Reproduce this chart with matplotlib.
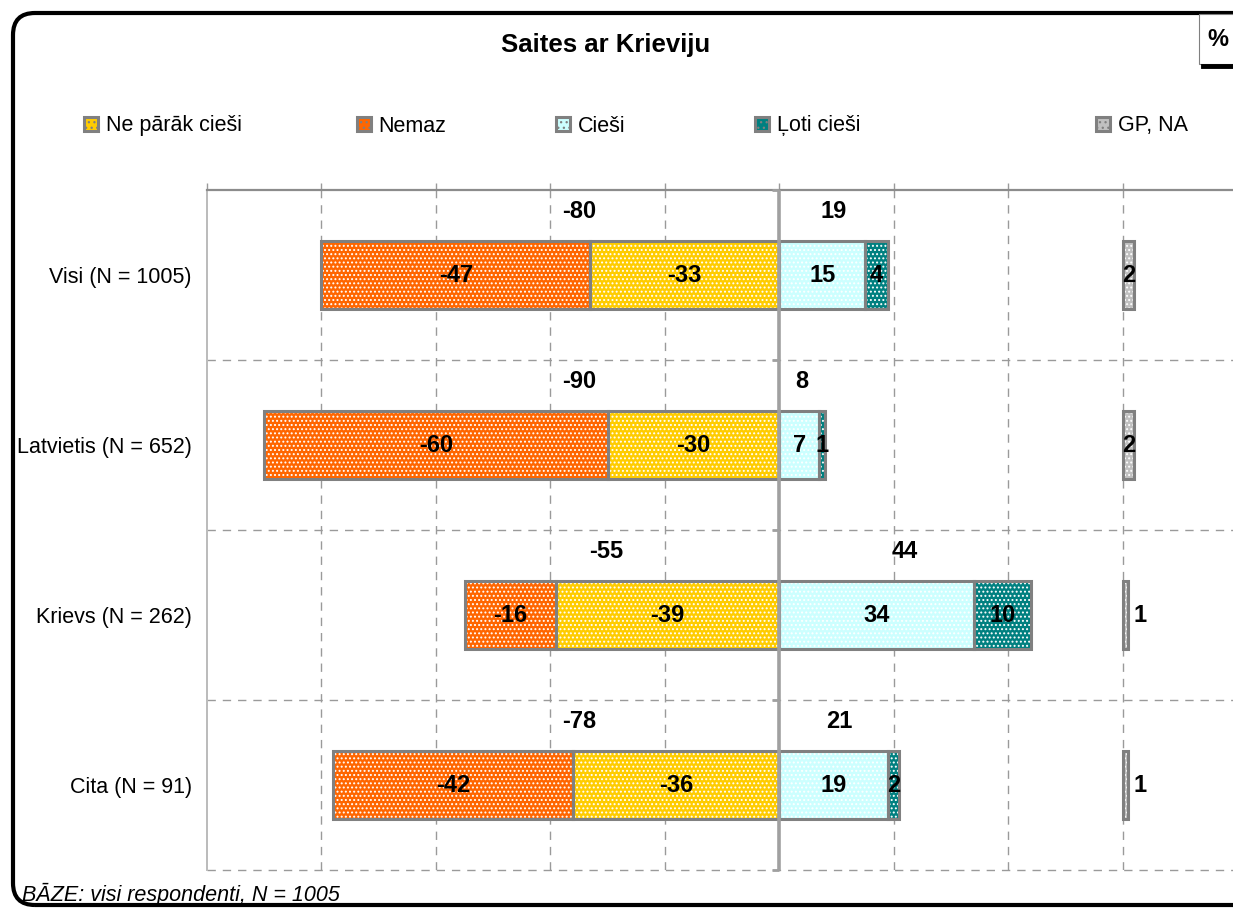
import matplotlib
matplotlib.use("Agg")
import matplotlib.pyplot as plt
import matplotlib.patches as mpatches
from matplotlib.transforms import IdentityTransform
import numpy as np

# ---------------- data ----------------
categories = ["Visi (N = 1005)", "Latvietis (N = 652)", "Krievs (N = 262)", "Cita (N = 91)"]
nemaz = [-47, -60, -16, -42]          # Nemaz
ne_parak = [-33, -30, -39, -36]       # Ne pārāk cieši
ciesi = [15, 7, 34, 19]               # Cieši
loti_ciesi = [4, 1, 10, 2]            # Ļoti cieši
gp_na = [2, 2, 1, 1]                  # GP, NA
neg_totals = [-80, -90, -55, -78]
pos_totals = [19, 8, 44, 21]
gp_offset = 60                        # position of the GP, NA column on the axis
x_ticks = [-100, -80, -60, -40, -20, 0, 20, 40, 60, 80]

title = "Saites ar Krieviju"
footnote = "BĀZE: visi respondenti, N = 1005"

# ---------------- style ----------------
plt.rcParams['font.family'] = ['Liberation Sans', 'DejaVu Sans']
plt.rcParams['hatch.linewidth'] = 0.9

C_NEMAZ = "#FF6600"
C_NEPARAK = "#FFCC00"
C_CIESI = "#CCFFFF"
C_LOTI = "#008080"
C_GP = "#C0C0C0"
EDGE = "#808080"
GRID = "#9A9A9A"
HATCH = "...."

W, H = 1233, 909
fig = plt.figure(figsize=(W / 100, H / 100), dpi=100)
fig.patch.set_facecolor("white")

ax = fig.add_axes([207 / W, 1 - 870 / H, (1237 - 207) / W, (870 - 190) / H])
y = np.arange(len(categories))
bh = 0.4


def hbar(left, width, color):
    ax.barh(y, width, left=left, height=bh, color=color, edgecolor="white",
            linewidth=0, hatch=HATCH, zorder=3)
    ax.barh(y, width, left=left, height=bh, fill=False, edgecolor=EDGE,
            linewidth=2.2, zorder=4)


zeros = np.zeros(len(y))
hbar(zeros, ne_parak, C_NEPARAK)
hbar(np.array(ne_parak), nemaz, C_NEMAZ)
hbar(zeros, ciesi, C_CIESI)
hbar(np.array(ciesi), loti_ciesi, C_LOTI)
hbar(np.full(len(y), gp_offset), gp_na, C_GP)

lab_kw = dict(fontsize=17, fontweight="bold", color="black", va="center", zorder=6)
for i in y:
    ax.text(ne_parak[i] / 2, i, f"{ne_parak[i]}", ha="center", **lab_kw)
    ax.text(ne_parak[i] + nemaz[i] / 2, i, f"{nemaz[i]}", ha="center", **lab_kw)
    ax.text(ciesi[i] / 2, i, f"{ciesi[i]}", ha="center", **lab_kw)
    ax.text(ciesi[i] + loti_ciesi[i] / 2, i, f"{loti_ciesi[i]}", ha="center", **lab_kw)
    if gp_na[i] >= 2:
        ax.text(gp_offset + gp_na[i] / 2, i, f"{gp_na[i]}", ha="center", **lab_kw)
    else:
        ax.text(gp_offset + gp_na[i] + 0.9, i, f"{gp_na[i]}", ha="left", **lab_kw)
    # totals above bars
    ax.text(max(neg_totals[i] * 0.55, -35), i - 0.375, f"{neg_totals[i]}", ha="center", **lab_kw)
    ax.text(pos_totals[i] / 2, i - 0.375, f"{pos_totals[i]}", ha="center", **lab_kw)

ax.set_xlim(-100, 80)
ax.set_ylim(3.5, -0.5)

# grid
for xv in x_ticks[1:]:
    if xv == 0:
        continue
    ax.axvline(xv, color=GRID, lw=1.0, ls=(0, (6, 5)), zorder=1)
for yv in [0.5, 1.5, 2.5, 3.5]:
    ax.axhline(yv, color=GRID, lw=1.0, ls=(0, (6, 5)), zorder=1, clip_on=False)
ax.axvline(0, color="#A0A0A0", lw=2.6, zorder=5)

# zero-line small ticks
for yv in [-0.5, 0.5, 1.5, 2.5, 3.5]:
    ax.plot([-1.2, 0], [yv, yv], color="#A0A0A0", lw=2.0, zorder=5, clip_on=False,
            solid_capstyle="butt")

ax.xaxis.tick_top()
ax.set_xticks(x_ticks)
ax.tick_params(axis="x", which="both", top=True, bottom=False, labeltop=False,
               labelbottom=False, direction="out", length=5, width=1, color=GRID)
ax.set_yticks(y)
ax.set_yticklabels(categories, fontsize=15.5)
ax.tick_params(axis="y", length=0, pad=11)

for s in ["right", "bottom"]:
    ax.spines[s].set_visible(False)
ax.spines["top"].set_color("#8C8C8C")
ax.spines["top"].set_linewidth(1.6)
ax.spines["left"].set_color("#BBBBBB")
ax.spines["left"].set_linewidth(1.4)

# ---------------- legend (individual entries) ----------------
legend_items = [
    ("Ne pārāk cieši", C_NEPARAK, 84),
    ("Nemaz", C_NEMAZ, 357),
    ("Cieši", C_CIESI, 556),
    ("Ļoti cieši", C_LOTI, 755),
    ("GP, NA", C_GP, 1096),
]
for name, col, xpx in legend_items:
    h = mpatches.Patch(facecolor=col, edgecolor=EDGE, linewidth=2.2, hatch="...")
    fig.legend([h], [name], loc="center left", bbox_to_anchor=(xpx / W, 1 - 126 / H),
               frameon=False, fontsize=15.5, handlelength=0.65, handleheight=0.65,
               handletextpad=0.35, borderpad=0, borderaxespad=0)

# ---------------- texts ----------------
fig.text(606 / W, 1 - 45 / H, title, ha="center", va="center", fontsize=18.5,
         fontweight="bold")
fig.text(22 / W, 1 - 894 / H, footnote, ha="left", va="center", fontsize=15.5,
         style="italic")

# frame with rounded corners (pixel coordinates)
frame = mpatches.FancyBboxPatch((13, H - 905), 1260, 892,
                                boxstyle="round,pad=0,rounding_size=22",
                                transform=IdentityTransform(), fill=False,
                                edgecolor="black", linewidth=3.0)
fig.add_artist(frame)

# "%" box
pbox = mpatches.Rectangle((1199, H - 64), 50, 50, transform=IdentityTransform(),
                          facecolor="white", edgecolor="#808080", linewidth=0.8)
fig.add_artist(pbox)
fig.add_artist(plt.Line2D([1203, 1240], [H - 66, H - 66], transform=IdentityTransform(),
                          color="black", linewidth=3.5))
fig.text(1218 / W, 1 - 40 / H, "%", ha="center", va="center", fontsize=17,
         fontweight="bold")

fig.savefig("out.png", dpi=100)
